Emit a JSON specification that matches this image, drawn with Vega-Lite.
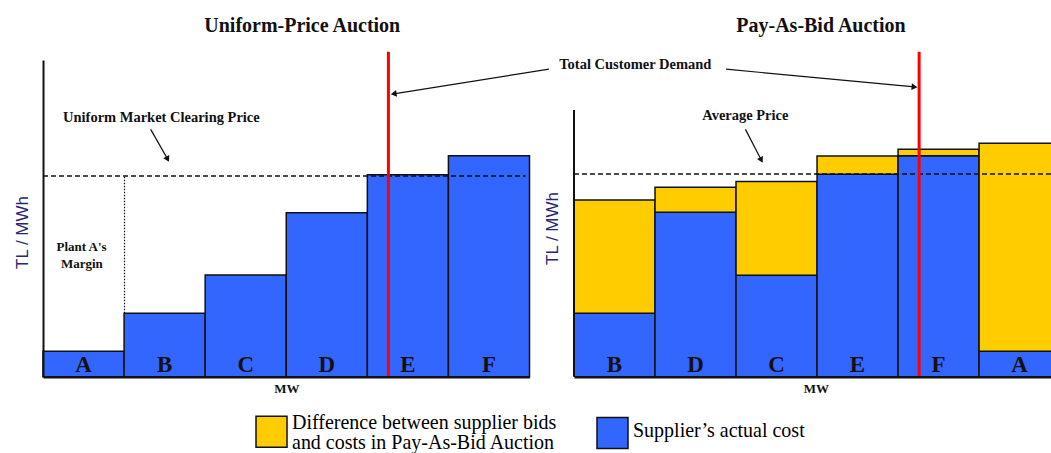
{
  "$schema": "https://vega.github.io/schema/vega-lite/v6.json",
  "background": "white",
  "padding": {"left": 13, "top": 16, "right": 0, "bottom": 0},
  "datasets": {
    "uniform": [
      {"plant": "A", "mw0": 0, "mw1": 100, "cost": 8, "part": "Supplier’s actual cost"},
      {"plant": "B", "mw0": 100, "mw1": 200, "cost": 20, "part": "Supplier’s actual cost"},
      {"plant": "C", "mw0": 200, "mw1": 300, "cost": 32.1, "part": "Supplier’s actual cost"},
      {"plant": "D", "mw0": 300, "mw1": 400, "cost": 51.8, "part": "Supplier’s actual cost"},
      {"plant": "E", "mw0": 400, "mw1": 500, "cost": 63.8, "part": "Supplier’s actual cost"},
      {"plant": "F", "mw0": 500, "mw1": 600, "cost": 69.8, "part": "Supplier’s actual cost"}
    ],
    "pab": [
      {"plant": "B", "mw0": 0, "mw1": 100, "low": 0, "high": 20, "part": "Supplier’s actual cost"},
      {"plant": "B", "mw0": 0, "mw1": 100, "low": 20, "high": 55.8, "part": "Difference between supplier bids and costs in Pay-As-Bid Auction"},
      {"plant": "D", "mw0": 100, "mw1": 200, "low": 0, "high": 51.9, "part": "Supplier’s actual cost"},
      {"plant": "D", "mw0": 100, "mw1": 200, "low": 51.9, "high": 59.8, "part": "Difference between supplier bids and costs in Pay-As-Bid Auction"},
      {"plant": "C", "mw0": 200, "mw1": 300, "low": 0, "high": 32, "part": "Supplier’s actual cost"},
      {"plant": "C", "mw0": 200, "mw1": 300, "low": 32, "high": 61.6, "part": "Difference between supplier bids and costs in Pay-As-Bid Auction"},
      {"plant": "E", "mw0": 300, "mw1": 400, "low": 0, "high": 63.9, "part": "Supplier’s actual cost"},
      {"plant": "E", "mw0": 300, "mw1": 400, "low": 63.9, "high": 69.7, "part": "Difference between supplier bids and costs in Pay-As-Bid Auction"},
      {"plant": "F", "mw0": 400, "mw1": 500, "low": 0, "high": 69.8, "part": "Supplier’s actual cost"},
      {"plant": "F", "mw0": 400, "mw1": 500, "low": 69.8, "high": 71.8, "part": "Difference between supplier bids and costs in Pay-As-Bid Auction"},
      {"plant": "A", "mw0": 500, "mw1": 600, "low": 0, "high": 8, "part": "Supplier’s actual cost"},
      {"plant": "A", "mw0": 500, "mw1": 600, "low": 8, "high": 73.7, "part": "Difference between supplier bids and costs in Pay-As-Bid Auction"}
    ],
    "levels": [
      {"panel": "uniform", "name": "clearing", "mw0": 0, "mw1": 595, "price": 63.4},
      {"panel": "pab", "name": "average", "mw0": 0, "mw1": 590, "price": 64}
    ],
    "demand": [
      {"panel": "uniform", "mw": 426, "p0": 0, "p1": 102.6},
      {"panel": "pab", "mw": 426, "p0": 0, "p1": 102.6}
    ],
    "margin": [
      {"mw": 100.5, "p0": 20, "p1": 63.4}
    ],
    "yaxis": [
      {"mw": 0, "p0": 0, "p1": 84.2}
    ],
    "notes": [
      {"panel": "uniform", "kind": "note", "label": "Uniform Market Clearing Price", "mw": 146, "price": 81.6},
      {"panel": "uniform", "kind": "small", "label": "Plant A's", "mw": 47.5, "price": 40.9},
      {"panel": "uniform", "kind": "small", "label": "Margin", "mw": 48, "price": 35.6},
      {"panel": "pab", "kind": "note", "label": "Total Customer Demand", "mw": 75.7, "price": 98.4},
      {"panel": "pab", "kind": "note", "label": "Average Price", "mw": 211.5, "price": 82.3}
    ],
    "arrows": [
      {"panel": "uniform", "id": "clearing", "mw0": 132.8, "p0": 78.1, "mw1": 153.7, "p1": 68.7},
      {"panel": "uniform", "id": "demand", "mw0": 623.9, "p0": 97.1, "mw1": 432.5, "p1": 89.3},
      {"panel": "pab", "id": "average", "mw0": 211.6, "p0": 78.1, "mw1": 231.2, "p1": 68.4},
      {"panel": "pab", "id": "demand", "mw0": 187.8, "p0": 97.1, "mw1": 420.3, "p1": 91.5}
    ]
  },
  "spacing": 44,
  "bounds": "flush",
  "hconcat": [
    {
      "width": 486.5,
      "height": 316.7,
      "title": {"text": "Uniform-Price Auction", "dx": 16, "offset": -2, "baseline": "alphabetic"},
      "layer": [
        {
          "data": {"name": "uniform"},
          "mark": {"type": "rect", "stroke": "#111111", "strokeWidth": 1.5},
          "encoding": {
            "x": {"field": "mw0", "type": "quantitative", "scale": {"domain": [0, 600], "nice": false, "zero": false},
                  "axis": {"title": "MW", "zindex": 1}},
            "x2": {"field": "mw1"},
            "y": {"field": "cost", "type": "quantitative", "scale": {"domain": [0, 100], "nice": false},
                  "axis": {"title": "TL / MWh", "domain": true, "zindex": 1, "titleY": 172}},
            "y2": {"datum": 0},
            "color": {
              "field": "part", "type": "nominal",
              "scale": {"domain": ["Difference between supplier bids and costs in Pay-As-Bid Auction", "Supplier’s actual cost"], "range": ["#FFCC00", "#3366FF"]},
              "legend": {
                "title": null, "orient": "none", "legendX": 212, "legendY": 355, "direction": "horizontal",
                "symbolType": "square", "symbolSize": 961, "symbolStrokeColor": "#111111", "symbolStrokeWidth": 1.5, "symbolOpacity": 1,
                "labelFont": "Liberation Serif", "labelFontSize": 20, "labelColor": "black", "labelLimit": 600, "labelOffset": 4,
                "columnPadding": 37,
                "labelExpr": "datum.label == 'Supplier’s actual cost' ? datum.label : ['Difference between supplier bids', 'and costs in Pay-As-Bid Auction']",
                "encode": {"labels": {"update": {"lineHeight": {"value": 20}, "dy": {"signal": "datum.label == 'Supplier’s actual cost' ? -2 : -9"}}}}
              }
            }
          }
        },
        {
          "data": {"name": "uniform"},
          "mark": {"type": "text", "font": "Liberation Serif", "fontWeight": "bold", "fontSize": 23, "dx": 40.5, "dy": -5, "baseline": "alphabetic", "align": "center", "color": "#111111"},
          "encoding": {
            "x": {"field": "mw0", "type": "quantitative"},
            "y": {"datum": 0},
            "text": {"field": "plant"}
          }
        },
        {
          "data": {"name": "levels"},
          "transform": [{"filter": "datum.panel == 'uniform'"}],
          "mark": {"type": "rule", "strokeDash": [5, 3], "strokeWidth": 1.5, "color": "#111111"},
          "encoding": {
            "x": {"field": "mw0", "type": "quantitative"},
            "x2": {"field": "mw1"},
            "y": {"field": "price", "type": "quantitative"}
          }
        },
        {
          "data": {"name": "margin"},
          "mark": {"type": "rule", "strokeDash": [1.5, 1.5], "strokeWidth": 1.2, "color": "#111111"},
          "encoding": {
            "x": {"field": "mw", "type": "quantitative"},
            "y": {"field": "p0", "type": "quantitative"},
            "y2": {"field": "p1"}
          }
        },
        {
          "data": {"name": "notes"},
          "transform": [{"filter": "datum.panel == 'uniform' && datum.kind == 'note'"}],
          "mark": {"type": "text", "font": "Liberation Serif", "fontWeight": "bold", "fontSize": 14.5, "baseline": "middle", "align": "center", "color": "#111111"},
          "encoding": {
            "x": {"field": "mw", "type": "quantitative"},
            "y": {"field": "price", "type": "quantitative"},
            "text": {"field": "label"}
          }
        },
        {
          "data": {"name": "notes"},
          "transform": [{"filter": "datum.panel == 'uniform' && datum.kind == 'small'"}],
          "mark": {"type": "text", "font": "Liberation Serif", "fontWeight": "bold", "fontSize": 13, "baseline": "middle", "align": "center", "color": "#111111"},
          "encoding": {
            "x": {"field": "mw", "type": "quantitative"},
            "y": {"field": "price", "type": "quantitative"},
            "text": {"field": "label"}
          }
        },
        {
          "data": {"name": "arrows"},
          "transform": [{"filter": "datum.panel == 'uniform'"}],
          "mark": {"type": "rule", "strokeWidth": 1.2, "color": "#111111"},
          "encoding": {
            "x": {"field": "mw0", "type": "quantitative"},
            "x2": {"field": "mw1"},
            "y": {"field": "p0", "type": "quantitative"},
            "y2": {"field": "p1"}
          }
        },
        {
          "data": {"name": "arrows"},
          "transform": [{"filter": "datum.panel == 'uniform' && datum.id == 'clearing'"}],
          "mark": {"type": "point", "shape": "triangle-right", "filled": true, "color": "#111111", "opacity": 1, "size": 45, "angle": 62},
          "encoding": {
            "x": {"field": "mw1", "type": "quantitative"},
            "y": {"field": "p1", "type": "quantitative"}
          }
        },
        {
          "data": {"name": "arrows"},
          "transform": [{"filter": "datum.panel == 'uniform' && datum.id == 'demand'"}],
          "mark": {"type": "point", "shape": "triangle-right", "filled": true, "color": "#111111", "opacity": 1, "size": 45, "angle": 171},
          "encoding": {
            "x": {"field": "mw1", "type": "quantitative"},
            "y": {"field": "p1", "type": "quantitative"}
          }
        },
        {
          "data": {"name": "demand"},
          "transform": [{"filter": "datum.panel == 'uniform'"}],
          "mark": {"type": "rule", "strokeWidth": 3, "color": "#FF0000"},
          "encoding": {
            "x": {"field": "mw", "type": "quantitative"},
            "y": {"field": "p0", "type": "quantitative"},
            "y2": {"field": "p1"}
          }
        }
      ]
    },
    {
      "width": 478,
      "height": 316.7,
      "title": {"text": "Pay-As-Bid Auction", "dx": 8, "offset": -2, "baseline": "alphabetic"},
      "layer": [
        {
          "data": {"name": "pab"},
          "mark": {"type": "rect", "stroke": "#111111", "strokeWidth": 1.5, "clip": true},
          "encoding": {
            "x": {"field": "mw0", "type": "quantitative", "scale": {"domain": [0, 590], "nice": false, "zero": false},
                  "axis": {"title": "MW", "zindex": 1, "titleX": 242}},
            "x2": {"field": "mw1"},
            "y": {"field": "high", "type": "quantitative", "scale": {"domain": [0, 100], "nice": false},
                  "axis": {"title": "TL / MWh", "domain": false, "titleY": 168}},
            "y2": {"field": "low"},
            "color": {"field": "part", "type": "nominal"}
          }
        },
        {
          "data": {"name": "pab"},
          "transform": [{"filter": "datum.low == 0"}],
          "mark": {"type": "text", "font": "Liberation Serif", "fontWeight": "bold", "fontSize": 23, "dx": 40.5, "dy": -5, "baseline": "alphabetic", "align": "center", "color": "#111111"},
          "encoding": {
            "x": {"field": "mw0", "type": "quantitative"},
            "y": {"datum": 0},
            "text": {"field": "plant"}
          }
        },
        {
          "data": {"name": "yaxis"},
          "mark": {"type": "rule", "strokeWidth": 2, "color": "#111111"},
          "encoding": {
            "x": {"field": "mw", "type": "quantitative"},
            "y": {"field": "p0", "type": "quantitative"},
            "y2": {"field": "p1"}
          }
        },
        {
          "data": {"name": "levels"},
          "transform": [{"filter": "datum.panel == 'pab'"}],
          "mark": {"type": "rule", "strokeDash": [5, 3], "strokeWidth": 1.5, "color": "#111111"},
          "encoding": {
            "x": {"field": "mw0", "type": "quantitative"},
            "x2": {"field": "mw1"},
            "y": {"field": "price", "type": "quantitative"}
          }
        },
        {
          "data": {"name": "notes"},
          "transform": [{"filter": "datum.panel == 'pab'"}],
          "mark": {"type": "text", "font": "Liberation Serif", "fontWeight": "bold", "fontSize": 14.5, "baseline": "middle", "align": "center", "color": "#111111"},
          "encoding": {
            "x": {"field": "mw", "type": "quantitative"},
            "y": {"field": "price", "type": "quantitative"},
            "text": {"field": "label"}
          }
        },
        {
          "data": {"name": "arrows"},
          "transform": [{"filter": "datum.panel == 'pab'"}],
          "mark": {"type": "rule", "strokeWidth": 1.2, "color": "#111111"},
          "encoding": {
            "x": {"field": "mw0", "type": "quantitative"},
            "x2": {"field": "mw1"},
            "y": {"field": "p0", "type": "quantitative"},
            "y2": {"field": "p1"}
          }
        },
        {
          "data": {"name": "arrows"},
          "transform": [{"filter": "datum.panel == 'pab' && datum.id == 'average'"}],
          "mark": {"type": "point", "shape": "triangle-right", "filled": true, "color": "#111111", "opacity": 1, "size": 45, "angle": 62},
          "encoding": {
            "x": {"field": "mw1", "type": "quantitative"},
            "y": {"field": "p1", "type": "quantitative"}
          }
        },
        {
          "data": {"name": "arrows"},
          "transform": [{"filter": "datum.panel == 'pab' && datum.id == 'demand'"}],
          "mark": {"type": "point", "shape": "triangle-right", "filled": true, "color": "#111111", "opacity": 1, "size": 45, "angle": 5.4},
          "encoding": {
            "x": {"field": "mw1", "type": "quantitative"},
            "y": {"field": "p1", "type": "quantitative"}
          }
        },
        {
          "data": {"name": "demand"},
          "transform": [{"filter": "datum.panel == 'pab'"}],
          "mark": {"type": "rule", "strokeWidth": 3, "color": "#FF0000"},
          "encoding": {
            "x": {"field": "mw", "type": "quantitative"},
            "y": {"field": "p0", "type": "quantitative"},
            "y2": {"field": "p1"}
          }
        }
      ]
    }
  ],
  "config": {
    "view": {"stroke": null},
    "title": {"font": "Liberation Serif", "fontSize": 20, "fontWeight": "bold", "color": "#111111", "anchor": "middle", "frame": "group"},
    "axisX": {"domain": true, "domainColor": "#111111", "domainWidth": 2.5, "ticks": false, "labels": false, "grid": false,
              "titleFont": "Liberation Serif", "titleFontWeight": "bold", "titleFontSize": 13, "titleColor": "#111111", "titlePadding": 6},
    "axisY": {"domainColor": "#111111", "domainWidth": 2, "ticks": false, "labels": false, "grid": false,
              "titleFont": "Liberation Sans", "titleFontWeight": "normal", "titleFontSize": 17, "titleColor": "#262673", "titlePadding": 12}
  }
}
